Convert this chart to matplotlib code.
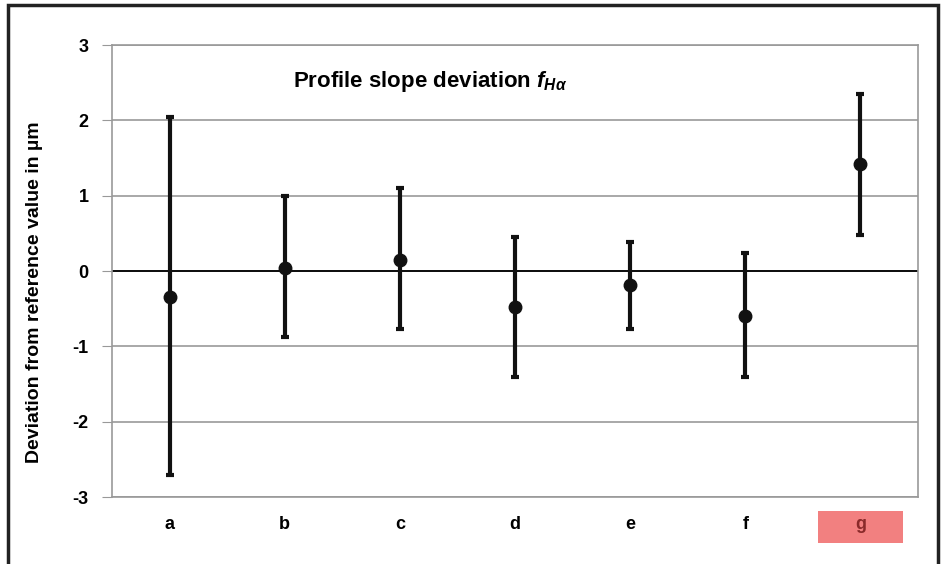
import numpy as np
import matplotlib.pyplot as plt
from matplotlib.patches import Rectangle

plt.rcParams['font.family'] = ['Liberation Sans', 'DejaVu Sans']
plt.rcParams['axes.unicode_minus'] = False
plt.rcParams['mathtext.fontset'] = 'custom'
plt.rcParams['mathtext.it'] = 'Liberation Sans:italic:bold'
plt.rcParams['mathtext.rm'] = 'Liberation Sans:bold'

# data
labels = ['a', 'b', 'c', 'd', 'e', 'f', 'g']
means = [-0.35, 0.04, 0.15, -0.48, -0.19, -0.60, 1.42]
upper = [2.05, 1.00, 1.10, 0.45, 0.39, 0.24, 2.35]
lower = [-2.71, -0.88, -0.77, -1.41, -0.77, -1.41, 0.48]

x = np.arange(len(labels)) + 0.5
means = np.array(means)
yerr = [means - np.array(lower), np.array(upper) - means]

fig = plt.figure(figsize=(9.43, 5.64), dpi=100)
ax = fig.add_axes([112/943, 1-497/564, 806/943, 452/564])

# outer frame of the figure
fig.patches.append(Rectangle((8/943, -0.05), 930/943, 1.05-5/564, transform=fig.transFigure,
                             fill=False, edgecolor='#222222', linewidth=2.5))

ax.set_xlim(0, 7)
ax.set_ylim(-3, 3)
ax.set_yticks(range(-3, 4))
ax.yaxis.grid(True, color='#999999', linewidth=1.2)
ax.axhline(0, color='black', linewidth=1.3, zorder=2)
for s in ax.spines.values():
    s.set_color('#999999')
    s.set_linewidth(1.2)
ax.set_axisbelow(True)

ax.errorbar(x, means, yerr=yerr, fmt='o', color='#111111', markersize=9,
            elinewidth=3, capsize=3, capthick=3, zorder=3)

ax.set_xticks(x)
ax.set_xticklabels(labels, fontsize=13, fontweight='bold')
ax.tick_params(axis='x', length=0, pad=14)
ax.tick_params(axis='y', length=7, color='#999999', labelsize=13, pad=10)
for t in ax.get_yticklabels():
    t.set_fontweight('bold')

# highlighted label g
ax.add_patch(Rectangle(((818-112)/806, (497-543)/452), 85/806, 32/452,
                       transform=ax.transAxes, facecolor='#F28080', edgecolor='none',
                       clip_on=False, zorder=0))
ax.get_xticklabels()[-1].set_color('#8a2a2a')

ax.text(1.57, 2.52, r'Profile slope deviation $f_{H\alpha}$', fontsize=16,
        fontweight='bold', va='center', ha='left')

fig.text(35/943, 1-292/564, 'Deviation from reference value in µm', fontsize=14,
         fontweight='bold', rotation=90, ha='center', va='center')

fig.savefig('out.png', dpi=100)
